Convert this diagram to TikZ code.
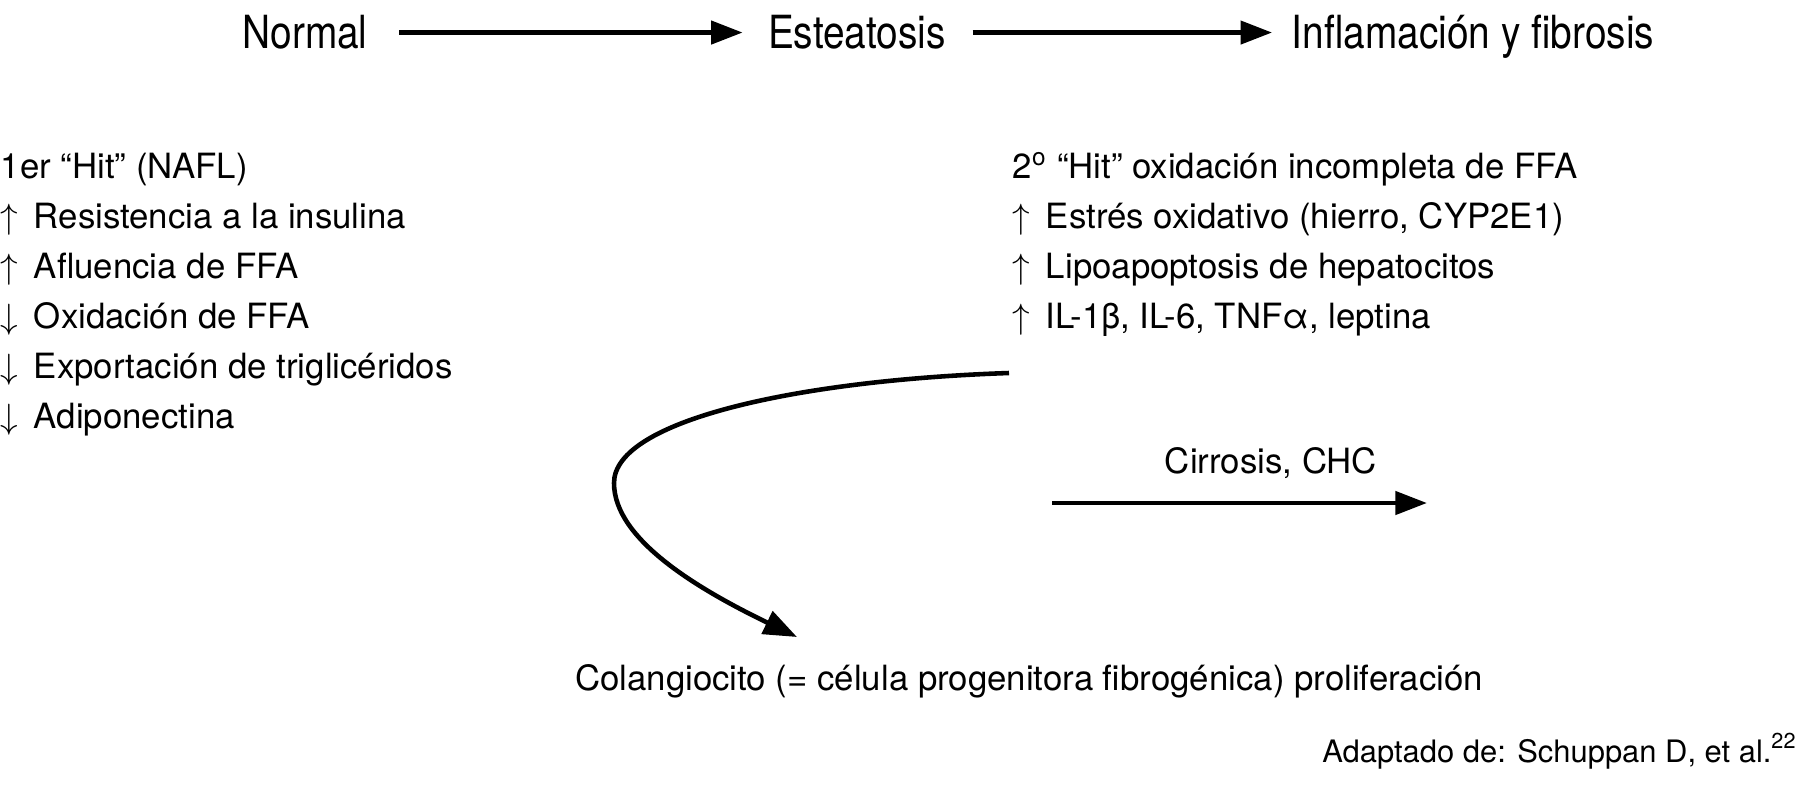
\documentclass[tikz,border=0pt]{standalone}
\usepackage{fontspec}
\setmainfont{TeX Gyre Heros}
\newfontfamily\stagefont[FakeStretch=0.85]{TeX Gyre Heros}
\usetikzlibrary{arrows.meta}
\tikzset{
  stage/.style={inner sep=0pt, font=\stagefont\fontsize{13}{15}\selectfont, text height=9.4pt, text depth=0.6pt},
  item/.style={inner sep=0pt, anchor=base west, font=\fontsize{9.9}{12}\selectfont},
  flow/.style={line width=1.4pt, -{Triangle[length=9pt,width=6.5pt]}},
  bendflow/.style={line width=1.3pt, -{Triangle[length=9.5pt,width=7pt]}},
}
\newcommand{\upar}{$\uparrow$\hspace{0.45em}}
\newcommand{\dnar}{$\downarrow$\hspace{0.45em}}

\begin{document}
\begin{tikzpicture}[x=0.1mm,y=-0.1mm]
\useasboundingbox (0,0) rectangle (1800,784);
% top row of stages
\node[stage,anchor=base] (normal) at (305,48) {Normal};
\node[stage,anchor=base] (esteat) at (857,48) {Esteatosis};
\node[stage,anchor=base] (inflam) at (1473,48) {Inflamación y fibrosis};
\draw[flow, shorten <=8.8pt, shorten >=7pt] (normal) -- (esteat);
\draw[flow, shorten <=7.4pt, shorten >=5.4pt] (esteat) -- (inflam);
% first hit, edit here for the lines
\foreach \txt [count=\i from 0] in {{1er “Hit” (NAFL)},{\upar Resistencia a la insulina},
  {\upar Afluencia de FFA},{\dnar Oxidación de FFA},{\dnar Exportación de triglicéridos},
  {\dnar Adiponectina}}
\node[item] (hitA\i) at (0,178+50*\i) {\txt};
% second hit
\foreach \txt [count=\i from 0] in {{2\textsuperscript{o} “Hit” oxidación incompleta de FFA},
  {\upar Estrés oxidativo (hierro, CYP2E1)},{\upar Lipoapoptosis de hepatocitos},
  {\upar IL-1β, IL-6, TNFα, leptina}}
\node[item] (hitB\i) at (1012,178+50*\i) {\txt};
% curved arrow down to the cholangiocytes
\coordinate (bend0) at (1009,373);
\coordinate (bend1) at (797,637);
\draw[bendflow] (bend0) .. controls (800,380) and (614,420) .. (614,483)
  .. controls (614,540) and (700,590) .. (bend1);
\node[item,anchor=base] (colang) at (1029,690) {Colangiocito (= célula progenitora fibrogénica) proliferación};
% cirrhosis arrow
\coordinate (cirA) at (1052,503);
\coordinate (cirB) at (1427,503);
\draw[flow] (cirA) -- (cirB);
\node[item,anchor=base] (cirrosis) at (1271,473) {Cirrosis, CHC};
\node[item,anchor=base east,font=\fontsize{8.8}{11}\selectfont] (source) at (1798,762) {Adaptado de: Schuppan D, et al.\textsuperscript{22}};
\end{tikzpicture}
\end{document}
